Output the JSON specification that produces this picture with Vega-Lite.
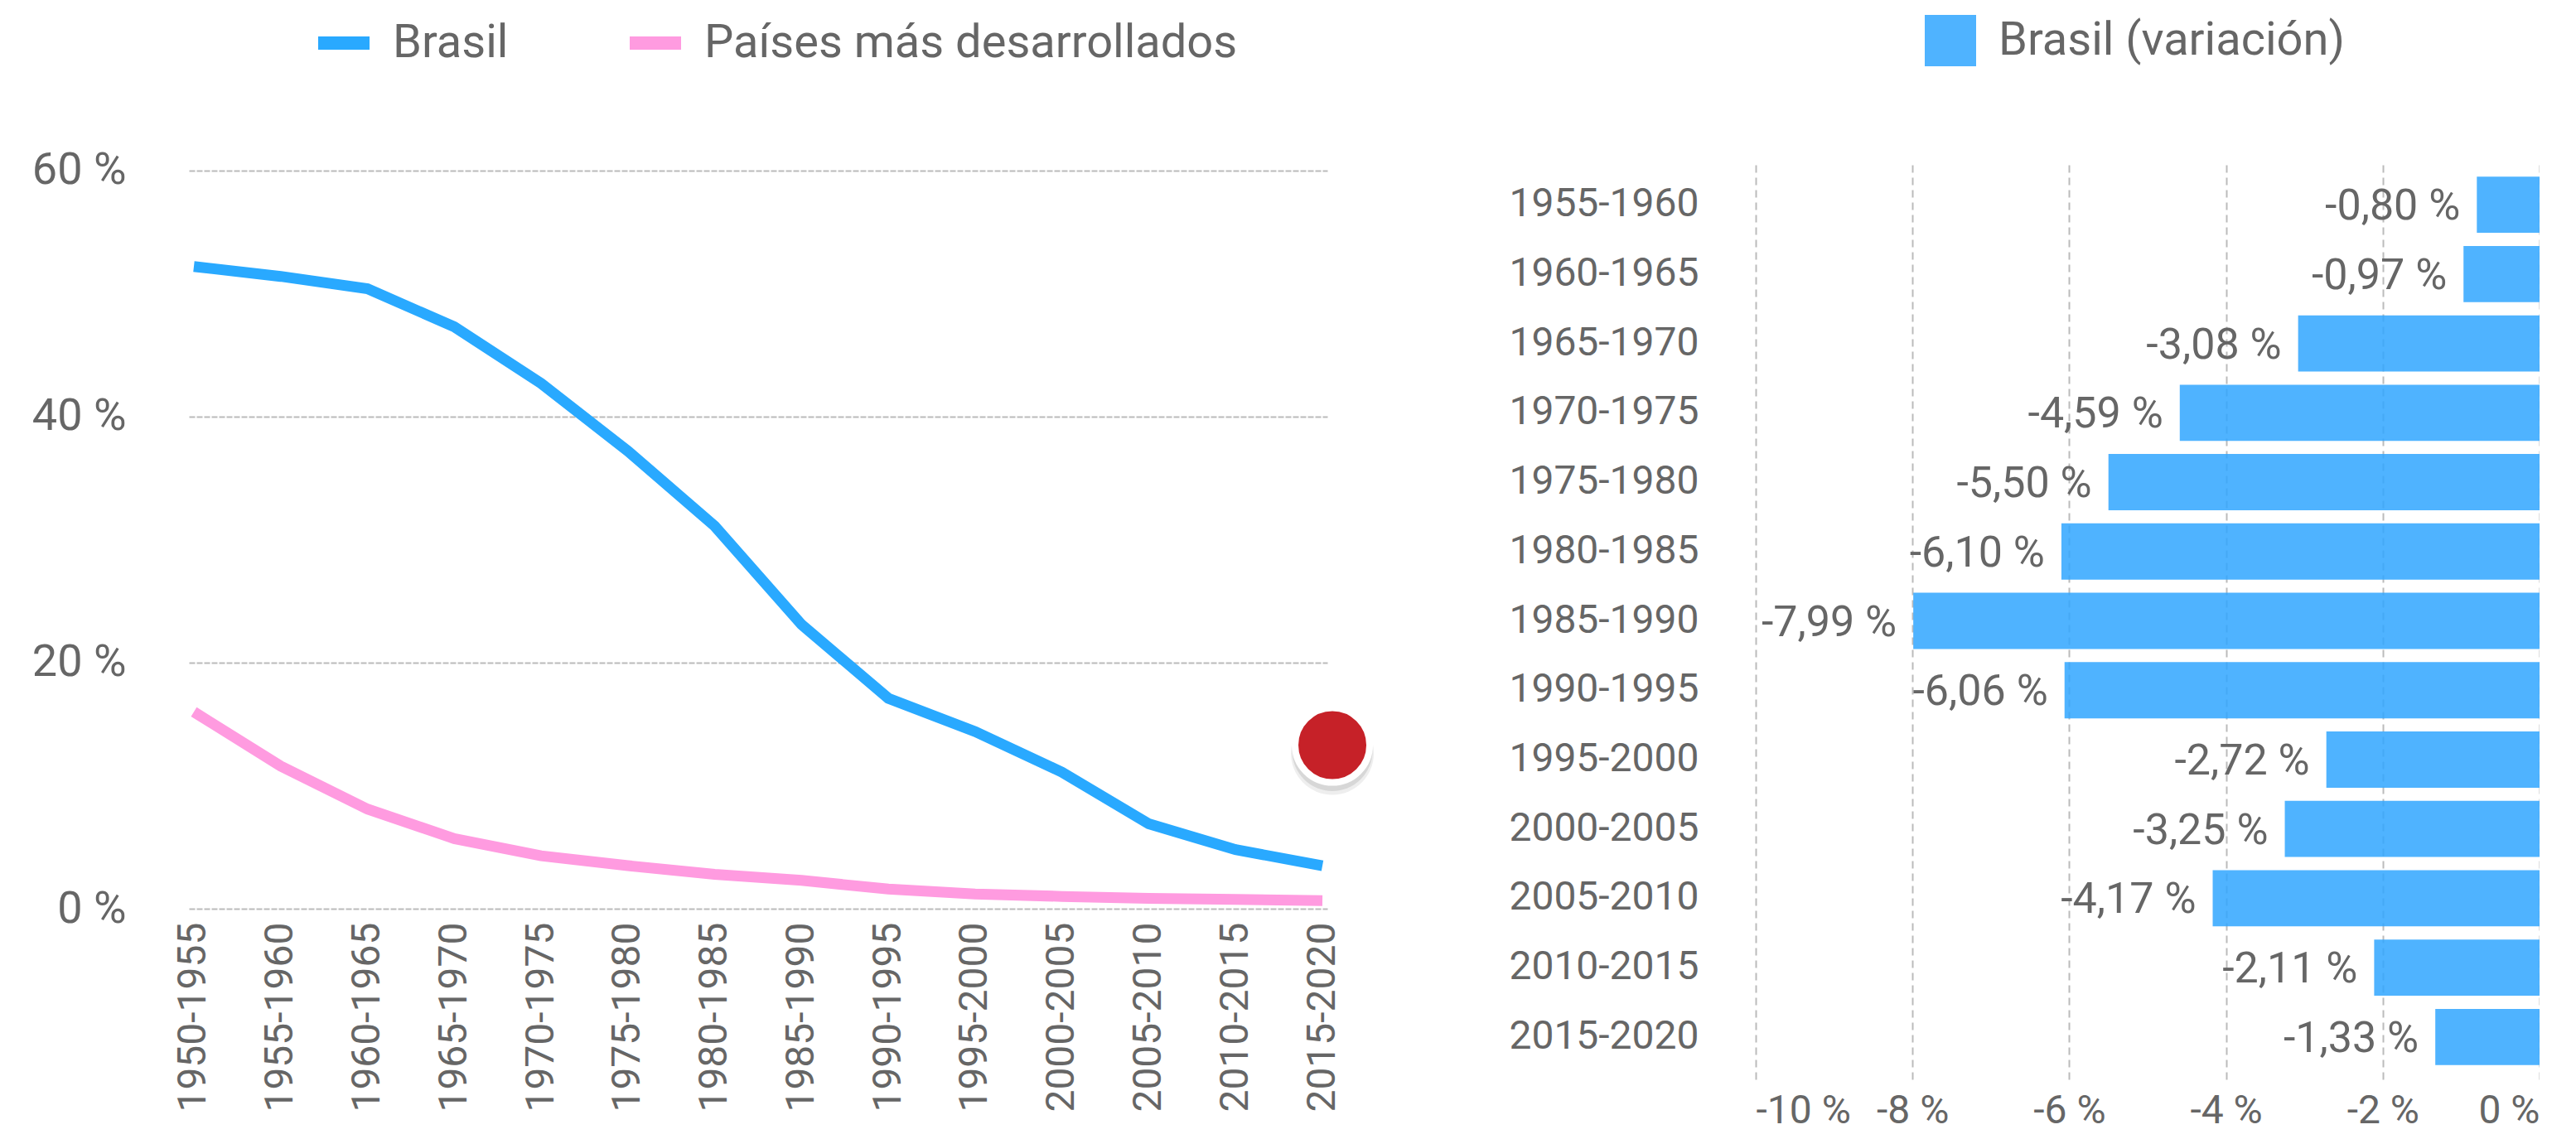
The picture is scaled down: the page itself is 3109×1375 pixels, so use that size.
{"$schema":"https://vega.github.io/schema/vega-lite/v6.json","background":"white","padding":{"left":38,"top":13,"right":0,"bottom":10},"spacing":150,"config":{"view":{"stroke":null},"font":"Roboto","text":{"font":"Roboto"}},"datasets":{"lineas":[{"p":"1950-1955","s":"Brasil","v":52.2},{"p":"1955-1960","s":"Brasil","v":51.4},{"p":"1960-1965","s":"Brasil","v":50.4},{"p":"1965-1970","s":"Brasil","v":47.3},{"p":"1970-1975","s":"Brasil","v":42.7},{"p":"1975-1980","s":"Brasil","v":37.2},{"p":"1980-1985","s":"Brasil","v":31.1},{"p":"1985-1990","s":"Brasil","v":23.1},{"p":"1990-1995","s":"Brasil","v":17.1},{"p":"1995-2000","s":"Brasil","v":14.4},{"p":"2000-2005","s":"Brasil","v":11.1},{"p":"2005-2010","s":"Brasil","v":6.9},{"p":"2010-2015","s":"Brasil","v":4.8},{"p":"2015-2020","s":"Brasil","v":3.5},{"p":"1950-1955","s":"Países más desarrollados","v":16},{"p":"1955-1960","s":"Países más desarrollados","v":11.6},{"p":"1960-1965","s":"Países más desarrollados","v":8.1},{"p":"1965-1970","s":"Países más desarrollados","v":5.7},{"p":"1970-1975","s":"Países más desarrollados","v":4.3},{"p":"1975-1980","s":"Países más desarrollados","v":3.5},{"p":"1980-1985","s":"Países más desarrollados","v":2.8},{"p":"1985-1990","s":"Países más desarrollados","v":2.3},{"p":"1990-1995","s":"Países más desarrollados","v":1.6},{"p":"1995-2000","s":"Países más desarrollados","v":1.2},{"p":"2000-2005","s":"Países más desarrollados","v":1.0},{"p":"2005-2010","s":"Países más desarrollados","v":0.85},{"p":"2010-2015","s":"Países más desarrollados","v":0.75},{"p":"2015-2020","s":"Países más desarrollados","v":0.65}],"barras":[{"p":"1955-1960","s":"Brasil (variación)","v":-0.80,"t":"-0,80 %"},{"p":"1960-1965","s":"Brasil (variación)","v":-0.97,"t":"-0,97 %"},{"p":"1965-1970","s":"Brasil (variación)","v":-3.08,"t":"-3,08 %"},{"p":"1970-1975","s":"Brasil (variación)","v":-4.59,"t":"-4,59 %"},{"p":"1975-1980","s":"Brasil (variación)","v":-5.50,"t":"-5,50 %"},{"p":"1980-1985","s":"Brasil (variación)","v":-6.10,"t":"-6,10 %"},{"p":"1985-1990","s":"Brasil (variación)","v":-7.99,"t":"-7,99 %"},{"p":"1990-1995","s":"Brasil (variación)","v":-6.06,"t":"-6,06 %"},{"p":"1995-2000","s":"Brasil (variación)","v":-2.72,"t":"-2,72 %"},{"p":"2000-2005","s":"Brasil (variación)","v":-3.25,"t":"-3,25 %"},{"p":"2005-2010","s":"Brasil (variación)","v":-4.17,"t":"-4,17 %"},{"p":"2010-2015","s":"Brasil (variación)","v":-2.11,"t":"-2,11 %"},{"p":"2015-2020","s":"Brasil (variación)","v":-1.33,"t":"-1,33 %"}],"marcador":[{"p":"2015-2020","v":13.3}]},"resolve":{"scale":{"color":"independent"}},"hconcat":[{"width":1374,"height":901,"layer":[{"data":{"name":"lineas"},"mark":{"type":"line","strokeWidth":13,"strokeCap":"butt"},"encoding":{"x":{"field":"p","type":"ordinal","sort":null,"scale":{"type":"point","padding":0.057},"axis":{"title":null,"labelAngle":-90,"labelAlign":"right","labelBaseline":"middle","labelFontSize":48,"labelLimit":0,"labelColor":"#666666","labelPadding":16,"ticks":false,"domain":false,"grid":false,"labelOverlap":false}},"y":{"field":"v","type":"quantitative","scale":{"domain":[0,60.67],"nice":false},"axis":{"title":null,"values":[0,20,40,60],"labelExpr":"datum.value + ' %'","labelFontSize":54,"labelColor":"#666666","labelPadding":76,"ticks":false,"domain":false,"grid":true,"gridColor":"#BBBBBB","gridWidth":2,"gridDash":[7,2]}},"color":{"field":"s","type":"nominal","scale":{"domain":["Brasil","Países más desarrollados"],"range":["#29A9FF","#FF9BE0"]},"legend":{"title":null,"orient":"none","legendX":148,"legendY":-183,"direction":"horizontal","columns":2,"symbolType":"stroke","symbolSize":3844,"symbolStrokeWidth":16,"labelFontSize":56,"labelLimit":0,"labelColor":"#666666","labelOffset":20,"columnPadding":114}}}},{"data":{"name":"marcador"},"mark":{"type":"point","filled":true,"color":"#555555","opacity":0.1,"size":10000,"xOffset":12,"yOffset":10},"encoding":{"x":{"field":"p","type":"ordinal","sort":null},"y":{"field":"v","type":"quantitative"}}},{"data":{"name":"marcador"},"mark":{"type":"point","filled":true,"color":"#555555","opacity":0.15,"size":9400,"xOffset":12,"yOffset":7},"encoding":{"x":{"field":"p","type":"ordinal","sort":null},"y":{"field":"v","type":"quantitative"}}},{"data":{"name":"marcador"},"mark":{"type":"point","filled":true,"color":"#C62128","opacity":1,"size":8100,"stroke":"white","strokeWidth":8,"strokeOpacity":1,"xOffset":12},"encoding":{"x":{"field":"p","type":"ordinal","sort":null},"y":{"field":"v","type":"quantitative"}}}]},{"width":946,"height":1107,"data":{"name":"barras"},"layer":[{"mark":{"type":"bar","opacity":0.85},"encoding":{"y":{"field":"p","type":"ordinal","sort":null,"scale":{"paddingInner":0.19,"paddingOuter":0.205},"axis":{"title":null,"labelFontSize":48,"labelLimit":0,"labelColor":"#666666","labelPadding":69,"ticks":false,"domain":false,"grid":false}},"x":{"field":"v","type":"quantitative","scale":{"domain":[-10,0],"nice":false},"axis":{"title":null,"values":[-10,-8,-6,-4,-2,0],"labelExpr":"datum.value + ' %'","labelFontSize":48,"labelOverlap":false,"labelColor":"#666666","labelPadding":14,"labelBaseline":"top","ticks":false,"domain":false,"grid":true,"gridColor":"#BBBBBB","gridWidth":2,"gridDash":[9,6]}},"color":{"field":"s","type":"nominal","scale":{"range":["#30A6FF"]},"legend":{"title":null,"orient":"none","legendX":203,"legendY":-179,"symbolType":"square","symbolSize":3844,"symbolOpacity":0.85,"labelFontSize":56,"labelLimit":0,"labelColor":"#666666","labelOffset":26}}}},{"mark":{"type":"text","align":"right","baseline":"middle","fontSize":52,"color":"#666666","xOffset":-20,"yOffset":2},"encoding":{"y":{"field":"p","type":"ordinal","sort":null},"x":{"field":"v","type":"quantitative"},"text":{"field":"t","type":"nominal"}}}]}]}
